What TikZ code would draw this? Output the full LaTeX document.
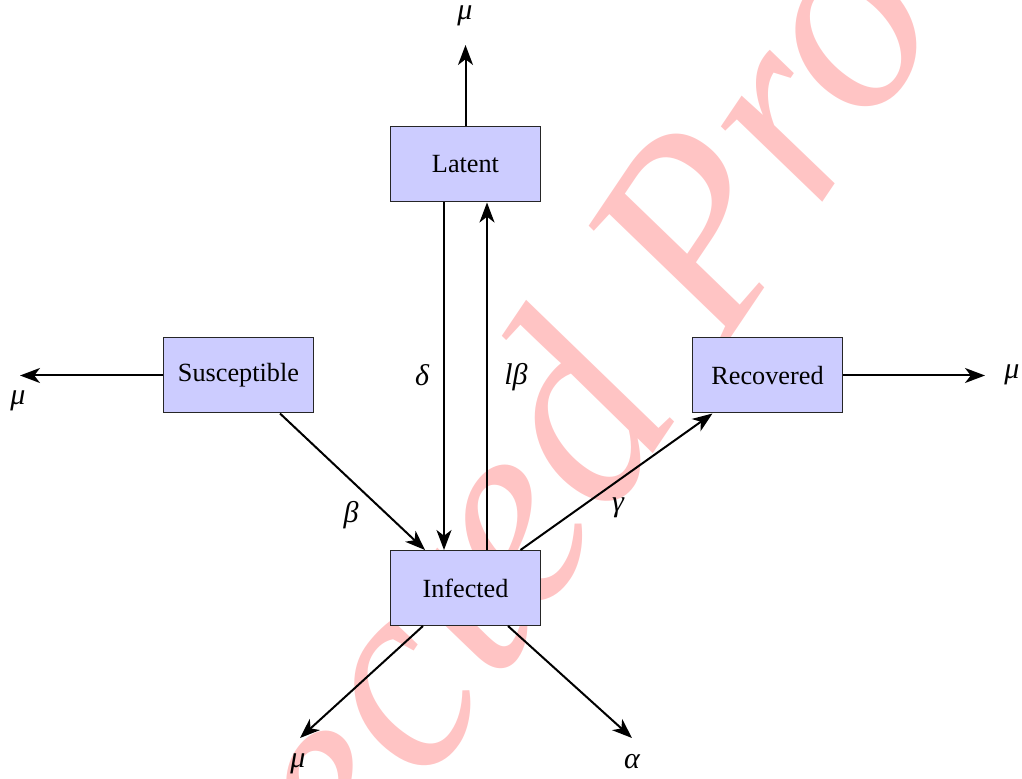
\documentclass[tikz,border=0pt]{standalone}
\usepackage{fontspec}
\setmainfont{Liberation Serif}
\newfontfamily\tnr{Liberation Serif}
\usetikzlibrary{arrows.meta,calc}
\definecolor{wmcol}{RGB}{255,196,196}
\definecolor{boxfill}{RGB}{204,204,255}
\begin{document}
\begin{tikzpicture}[x=0.4pt,y=-0.4pt,
  box/.style={draw=black!85, fill=boxfill, minimum width=60pt, minimum height=30pt, inner sep=0pt, font=\tnr\fontsize{10.5}{12}\selectfont},
  flow/.style={thick, -{Stealth[length=8pt,width=6pt,inset=2.3pt]}},
  lab/.style={inner sep=0pt, font=\tnr\fontsize{12}{14}\selectfont\itshape},
  wmark/.style={text=wmcol, inner sep=0pt, rotate=56, font=\tnr\fontsize{110}{110}\selectfont\itshape}]
\useasboundingbox (0,0) rectangle (1022,779);
\begin{scope}
  \clip (0,0) rectangle (1022,779);
  \node[wmark, anchor=base west] (wm) at (66,1324) {Corrected Proof};
\end{scope}
% boxes
\node[box] (L) at (465.5,164.5) {Latent};
\node[box] (S) at (238.5,375.5) {Susceptible};
\node[box] (R) at (767.5,375.5) {Recovered};
\node[box] (I) at (465.5,588) {Infected};
% free ends
\coordinate (Ltop) at (465.5,45);
\coordinate (Sleft) at (20,375.5);
\coordinate (Rright) at (985,375.5);
\coordinate (Imu) at (300,738);
\coordinate (Ialpha) at (632,738);
% connectors
\draw[flow] (L.north) -- (Ltop);
\draw[flow] (S.west) -- (Sleft);
\draw[flow] (R.east) -- (Rright);
\draw[flow] ($(L.south)+(-21.5,0)$) -- ($(I.north)+(-21.5,0)$);
\draw[flow] ($(I.north)+(21.5,0)$) -- ($(L.south)+(21.5,0)$);
\draw[flow] ($(S.south)+(41.5,0)$) -- ($(I.north)+(-40.5,0)$);
\draw[flow] ($(I.north)+(55,0)$) -- ($(R.south)+(-55,0)$);
\draw[flow] ($(I.south)+(-42.5,0)$) -- (Imu);
\draw[flow] ($(I.south)+(42.5,0)$) -- (Ialpha);
% labels
\node[lab] (m1) at (465,16) {μ};
\node[lab] (m2) at (18,401) {μ};
\node[lab] (m3) at (1012,375) {μ};
\node[lab] (m4) at (298,764) {μ};
\node[lab] (al) at (632,762) {α};
\node[lab] (de) at (422,375) {δ};
\node[lab] (lb) at (516,377) {lβ};
\node[lab] (be) at (351,515) {β};
\node[lab] (ga) at (618,508) {γ};
\end{tikzpicture}
\end{document}
